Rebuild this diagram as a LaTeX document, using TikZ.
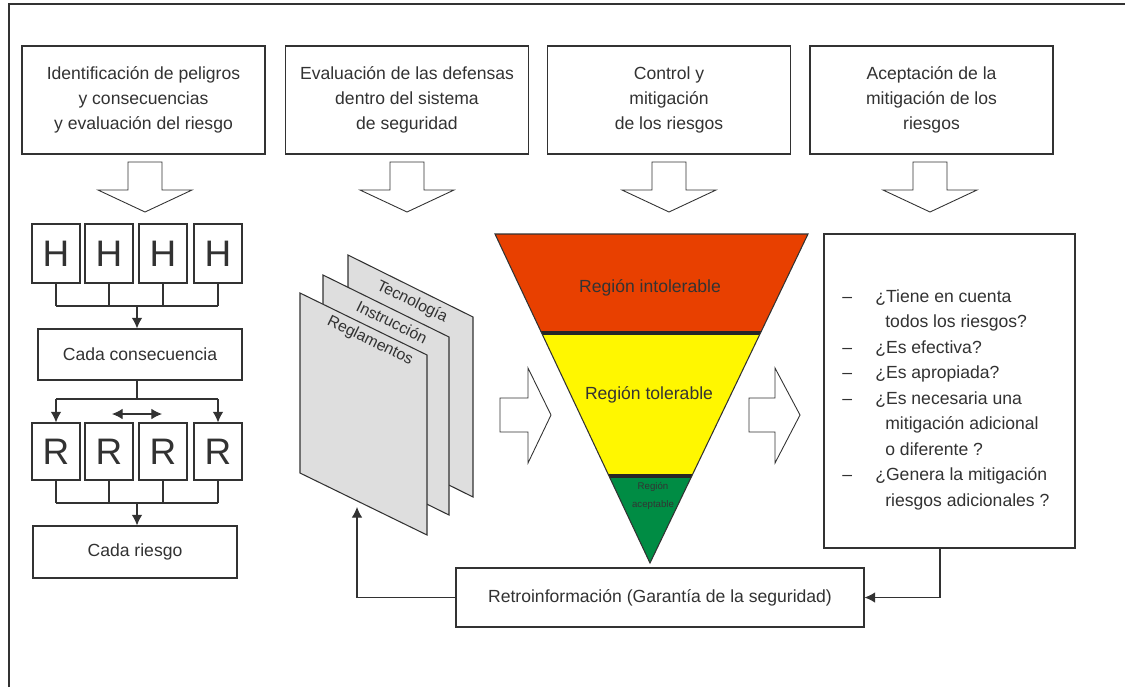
\documentclass[tikz,border=0pt]{standalone}
\usepackage{fontspec}
\setmainfont{Liberation Sans}
\usetikzlibrary{arrows.meta}
\definecolor{linec}{RGB}{50,50,50}
\definecolor{redreg}{RGB}{232,64,0}
\definecolor{yellowreg}{RGB}{255,247,0}
\definecolor{greenreg}{RGB}{0,140,68}
\definecolor{pagegray}{RGB}{222,222,222}
\tikzset{
  box/.style={draw=linec, line width=0.7pt, fill=white, align=center, inner sep=0pt, text=linec, font=\fontsize{10}{14.2}\selectfont},
  topbox/.style={box, minimum width=4.86cm, minimum height=2.16cm},
  hbox/.style={box, minimum width=0.96cm, minimum height=1.18cm, font=\fontsize{21}{21}\selectfont},
  rbox/.style={hbox, minimum height=1.14cm},
  blockarr/.style={draw=linec, line width=0.5pt, fill=white},
  page/.style={draw=linec, line width=0.6pt, fill=pagegray},
  pagelbl/.style={rotate=-26, inner sep=0pt, text=linec, font=\fontsize{9}{9}\selectfont},
  link/.style={draw=linec, line width=0.6pt},
  arr/.style={link, -{Latex[length=6pt,width=6pt]}},
  dbl/.style={link, {Latex[length=6pt,width=6pt]}-{Latex[length=6pt,width=6pt]}},
  region/.style={inner sep=0pt, text=black!80, font=\fontsize{10}{12}\selectfont}
}
\begin{document}
\begin{tikzpicture}[x=0.02cm, y=-0.02cm]
    \useasboundingbox (0,0) rectangle (1125,687);
    \draw[line width=0.8pt, linec] (9,687) -- (9,4) -- (1125,4);

    \node[topbox] (ident) at (143.5,100) {Identificación de peligros\\y consecuencias\\y evaluación del riesgo};
    \node[topbox] (evalu) at (407,100) {Evaluación de las defensas\\dentro del sistema\\de seguridad};
    \node[topbox] (contr) at (669,100) {Control y\\mitigación\\de los riesgos};
    \node[topbox] (acept) at (931.5,100) {Aceptación de la\\mitigación de los\\riesgos};

    \foreach \x in {145,407,669,930}
        \draw[blockarr] (\x-17,162) -- (\x+17,162) -- (\x+17,190) -- (\x+47,190) -- (\x,212) -- (\x-47,190) -- (\x-17,190) -- cycle;

    \foreach \i/\x in {1/56,2/109,3/163,4/218} {
        \node[hbox] (h\i) at (\x,253.5) {H};
        \node[rbox] (r\i) at (\x,451.5) {R};
    }
    \node[box, minimum width=4.08cm, minimum height=1.02cm] (cons) at (140,354.5) {Cada consecuencia};
    \node[box, minimum width=4.08cm, minimum height=1.04cm] (riesgo) at (135,552) {Cada riesgo};

    \coordinate (hjoin) at (137,306);
    \coordinate (cjoin) at (137,399);
    \coordinate (rjoin) at (137,503);
    \foreach \i in {1,...,4} {
        \draw[link] (h\i.south) -- (h\i.south |- hjoin);
        \draw[link] (r\i.south) -- (r\i.south |- rjoin);
    }
    \draw[link] (hjoin -| h1) -- (hjoin -| h4);
    \draw[arr] (hjoin) -- (hjoin |- cons.north);
    \draw[link] (cjoin |- cons.south) -- (cjoin);
    \draw[link] (cjoin -| r1) -- (cjoin -| r4);
    \draw[arr] (cjoin -| r1) -- (r1.north);
    \draw[arr] (cjoin -| r4) -- (r4.north);
    \coordinate (swapl) at (112,414);
    \coordinate (swapr) at (162,414);
    \draw[dbl] (swapl) -- (swapr);
    \draw[link] (rjoin -| r1) -- (rjoin -| r4);
    \draw[arr] (rjoin) -- (rjoin |- riesgo.north);

    \draw[page] (348,255) -- (473,317) -- (473,497) -- (348,435) -- cycle;
    \draw[page] (323,275) -- (449,337) -- (449,515) -- (323,453) -- cycle;
    \draw[page] (300,293) -- (427,355) -- (427,535) -- (300,473) -- cycle;
    \node[pagelbl] (tecno) at (412,302) {Tecnología};
    \node[pagelbl] (instr) at (392,322) {Instrucción};
    \node[pagelbl] (regla) at (370,341) {Reglamentos};

    \draw[blockarr] (500,398) -- (528,398) -- (528,368) -- (551,415) -- (528,463) -- (528,432) -- (500,432) -- cycle;
    \draw[blockarr] (749,398) -- (775,398) -- (775,368) -- (800,415) -- (775,463) -- (775,432) -- (749,432) -- cycle;

    \coordinate (tl) at (495,234);
    \coordinate (tr) at (808,234);
    \coordinate (tip) at (650,563);
    \begin{scope}
        \clip (tl) -- (tr) -- (tip) -- cycle;
        \fill[redreg] (480,220) rectangle (820,333);
        \fill[yellowreg] (480,333) rectangle (820,476);
        \fill[greenreg] (480,476) rectangle (820,570);
        \draw[line width=2.8pt, black!85] (480,333) -- (820,333);
        \draw[line width=2.8pt, black!85] (480,476) -- (820,476);
    \end{scope}
    \draw[linec, line width=0.6pt] (tl) -- (tr) -- (tip) -- cycle;
    \node[region] (intol) at (650,288) {Región intolerable};
    \node[region] (toler) at (649,395) {Región tolerable};
    \node[region, align=center, font=\fontsize{5.5}{10}\selectfont] (aceptr) at (653,496) {Región\\aceptable};

    \node[box, minimum width=5.02cm, minimum height=6.28cm] (qbox) at (949.5,391) {};
    \node[anchor=north west, inner sep=0pt, text=linec, font=\fontsize{10}{14.5}\selectfont] (qlist) at (842,284) {%
        \begin{tabular}{@{}p{0.66cm}@{}l@{}}
            – & ¿Tiene en cuenta\\
              & \hspace{0.2cm}todos los riesgos?\\
            – & ¿Es efectiva?\\
            – & ¿Es apropiada?\\
            – & ¿Es necesaria una\\
              & \hspace{0.2cm}mitigación adicional\\
              & \hspace{0.2cm}o diferente ?\\
            – & ¿Genera la mitigación\\
              & \hspace{0.2cm}riesgos adicionales ?
        \end{tabular}};

    \node[box, minimum width=8.16cm, minimum height=1.18cm] (retro) at (660,597.5) {Retroinformación (Garantía de la seguridad)};
    \coordinate (pgbot) at (357,507);
    \draw[arr] (retro.west) -| (pgbot);
    \draw[arr] ([xshift=-0.19cm]qbox.south) |- (retro.east);
\end{tikzpicture}
\end{document}
